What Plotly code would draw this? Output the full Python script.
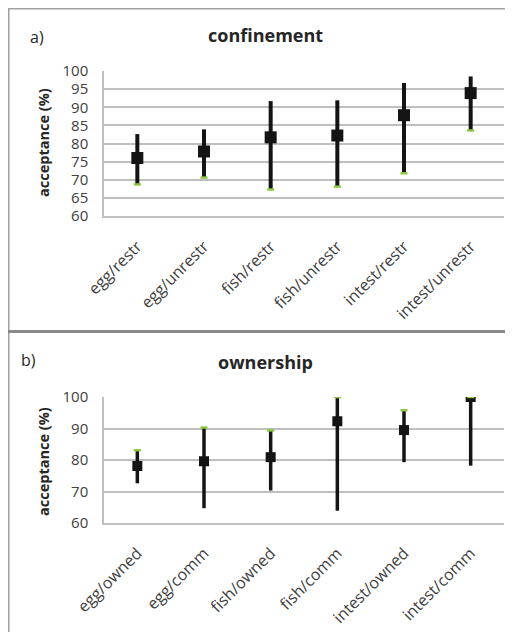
import plotly.graph_objects as go

# page offset of the plot inside the browser (default body margin)
OFF = 8
W, H = 513 - OFF, 632 - OFF

# ---- data: panel a (confinement)
conf_cats = ["egg/restr", "egg/unrestr", "fish/restr", "fish/unrestr", "intest/restr", "intest/unrestr"]
conf_mean = [76.0, 77.8, 81.7, 82.2, 87.8, 93.9]
conf_high = [82.6, 83.9, 91.7, 91.9, 96.7, 98.5]
conf_low = [68.7, 70.6, 67.3, 68.1, 71.8, 83.6]

# ---- data: panel b (ownership)
own_cats = ["egg/owned", "egg/comm", "fish/owned", "fish/comm", "intest/owned", "intest/comm"]
own_mean = [78.1, 79.6, 80.9, 92.3, 89.5, 100.0]
own_high = [83.1, 90.3, 89.4, 100.0, 95.8, 100.0]
own_low = [72.6, 64.7, 70.3, 63.9, 79.3, 78.2]

conf_ticks = [60, 65, 70, 75, 80, 85, 90, 95, 100]
own_ticks = [60, 70, 80, 90, 100]

BLACK = "#141414"
GREEN = "#8dc63f"
GRID = "#bfbfbf"
TXT = "#404040"
FONT = "Open Sans"


def px_x(x):
    return (x - OFF) / W


def px_y(y):
    return 1 - (y - OFF) / H


fig = go.Figure()


def add_panel(cats, mean, high, low, green_vals, xa, ya, lw, msize):
    fig.add_trace(go.Scatter(
        x=cats, y=mean, mode="markers", xaxis=xa, yaxis=ya,
        marker=dict(symbol="square", size=msize, color=BLACK),
        error_y=dict(type="data", symmetric=False,
                     array=[h - m for h, m in zip(high, mean)],
                     arrayminus=[m - l for m, l in zip(mean, low)],
                     thickness=lw, width=0, color=BLACK),
        showlegend=False, hoverinfo="skip"))
    fig.add_trace(go.Scatter(
        x=cats, y=green_vals, mode="markers", xaxis=xa, yaxis=ya,
        marker=dict(symbol="line-ew-open", size=5, color=GREEN,
                    line=dict(color=GREEN, width=2.5)),
        showlegend=False, hoverinfo="skip"))


add_panel(conf_cats, conf_mean, conf_high, conf_low, conf_low, "x", "y", 4, 12)
add_panel(own_cats, own_mean, own_high, own_low, own_high, "x2", "y2", 3.5, 10)

xcommon = dict(showgrid=False, showline=True, linecolor=GRID, linewidth=1.5,
               tickangle=-45, tickfont=dict(family=FONT, size=16, color=TXT),
               range=[-0.5, 5.5], ticks="", ticklabelstandoff=13, automargin=False)
ycommon = dict(showgrid=True, gridcolor=GRID, gridwidth=1.5, showline=True,
               linecolor=GRID, linewidth=1.5, zeroline=False, range=[60, 100],
               tickfont=dict(family=FONT, size=15, color=TXT), ticks="",
               ticklabelstandoff=11, automargin=False)

fig.update_layout(
    width=W, height=H, margin=dict(l=0, r=0, t=0, b=0, pad=0, autoexpand=False),
    paper_bgcolor="white", plot_bgcolor="white",
    xaxis=dict(domain=[px_x(104), px_x(504)], anchor="y", categoryorder="array",
               categoryarray=conf_cats, **xcommon),
    yaxis=dict(domain=[px_y(216), px_y(71)], anchor="x", tickvals=conf_ticks, **ycommon),
    xaxis2=dict(domain=[px_x(104), px_x(504)], anchor="y2", categoryorder="array",
                categoryarray=own_cats, **xcommon),
    yaxis2=dict(domain=[px_y(523), px_y(397)], anchor="x2", tickvals=own_ticks, **ycommon),
)

# annotations: titles, panel letters, y-axis titles
ann = [
    dict(text="<b>confinement</b>", x=px_x(265), y=px_y(35), size=18, angle=0),
    dict(text="a)", x=px_x(37), y=px_y(37), size=16, angle=0),
    dict(text="<b>ownership</b>", x=px_x(265), y=px_y(362), size=18, angle=0),
    dict(text="b)", x=px_x(28), y=px_y(360), size=16, angle=0),
    dict(text="<b>acceptance (%)</b>", x=px_x(43), y=px_y(143), size=14.5, angle=-90),
    dict(text="<b>acceptance (%)</b>", x=px_x(43), y=px_y(462), size=14.5, angle=-90),
]
for a in ann:
    fig.add_annotation(text=a["text"], x=a["x"], y=a["y"], xref="paper", yref="paper",
                       showarrow=False, textangle=a["angle"], xanchor="center", yanchor="middle",
                       font=dict(family=FONT, size=a["size"], color="#262626"))

# frame lines (left edge sits at the very left of the figure)
fig.add_shape(type="line", xref="paper", yref="paper", x0=0.75 / W, x1=0.75 / W, y0=0, y1=1,
              line=dict(color="#a0a0a0", width=1.5))
fig.add_shape(type="line", xref="paper", yref="paper", x0=0, x1=1, y0=1 - 0.75 / H, y1=1 - 0.75 / H,
              line=dict(color="#a0a0a0", width=1.5))
fig.add_shape(type="line", xref="paper", yref="paper", x0=0, x1=1, y0=px_y(331.5), y1=px_y(331.5),
              line=dict(color="#8a8a8a", width=3))

fig.write_html("out.html")
